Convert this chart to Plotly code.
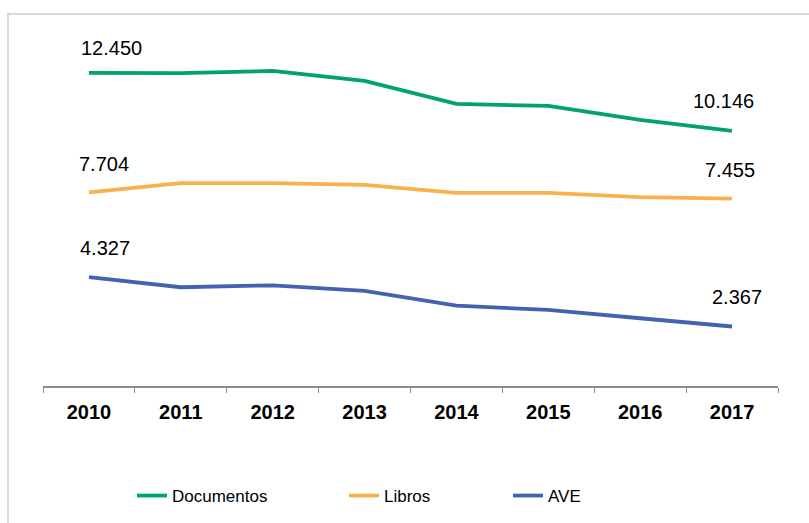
import plotly.graph_objects as go

years = ["2010", "2011", "2012", "2013", "2014", "2015", "2016", "2017"]
documentos = [12450, 12440, 12530, 12135, 11220, 11140, 10585, 10146]
libros = [7704, 8065, 8065, 8000, 7680, 7680, 7510, 7455]
ave = [4327, 3927, 4005, 3780, 3195, 3025, 2695, 2367]

series = [
    ("Documentos", documentos, "#00a26d", "legend"),
    ("Libros", libros, "#f9b04f", "legend2"),
    ("AVE", ave, "#4263b0", "legend3"),
]

font = "Liberation Sans, Arial, sans-serif"

fig = go.Figure()
for name, vals, color, leg in series:
    fig.add_trace(go.Scatter(
        x=years, y=vals, name=name, mode="lines",
        line=dict(color=color, width=3.8),
        legend=leg,
    ))

# first/last labels, shifted like the original
label_shift = {
    "Documentos": [(23, 25), (-9, 30)],
    "Libros": [(15, 28), (-2, 29)],
    "AVE": [(16, 29), (5, 29)],
}
for name, vals, color, leg in series:
    for idx, (dx, dy) in zip([0, len(years) - 1], label_shift[name]):
        fig.add_annotation(
            xref="x", yref="y",
            x=idx, y=vals[idx],
            text=f"{vals[idx]:,}".replace(",", "."),
            showarrow=False, xshift=dx, yshift=dy,
            font=dict(family=font, size=20, color="#000000"),
        )

# chart frame (only top/left edge visible in the original)
fig.add_shape(
    type="rect", xref="paper", yref="paper",
    x0=-35 / 735, x1=1.2, y0=-0.6, y1=(386 - 14) / 352,
    line=dict(color="#d9d9d9", width=2), fillcolor="rgba(0,0,0,0)",
    layer="below",
)

leg_common = dict(
    orientation="h", xref="container", yref="container",
    yanchor="middle", y=1 - 496 / 523, xanchor="left",
    font=dict(family=font, size=17, color="#000000"),
    bgcolor="rgba(0,0,0,0)", itemwidth=30,
)
fig.update_layout(
    width=809, height=523,
    margin=dict(l=43, r=31, t=34, b=137),
    paper_bgcolor="white", plot_bgcolor="white",
    font=dict(family=font, color="#000000"),
    legend=dict(x=(138 - 6) / 809, **leg_common),
    legend2=dict(x=(350 - 6) / 809, **leg_common),
    legend3=dict(x=(514 - 6) / 809, **leg_common),
    showlegend=True,
)
fig.update_xaxes(
    type="category", range=[-0.5, 7.5],
    showline=True, linecolor="#8c8c8c", linewidth=1.5,
    ticks="outside", tickson="boundaries", ticklen=5, tickcolor="#8c8c8c",
    tickfont=dict(family=font, size=20, color="#000000", weight="bold"),
    ticklabelstandoff=7,
    showgrid=False, zeroline=False,
)
fig.update_yaxes(range=[0, 14000], visible=False)

fig.write_html(
    "out.html",
    config={"displayModeBar": False},
    post_script="document.body.style.margin='0';",
)
